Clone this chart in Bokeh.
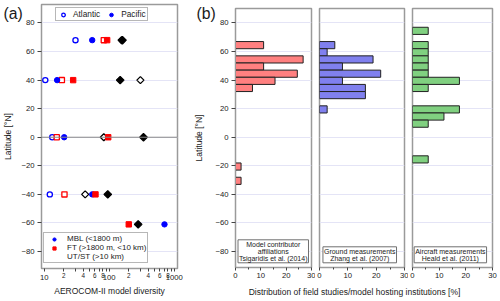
import numpy as np
from bokeh.plotting import figure
from bokeh.models import (FixedTicker, LogAxis, Legend, LegendItem, Label, Span, Range1d, Title)
from bokeh.layouts import row, column
from bokeh.embed import file_html
from bokeh.resources import INLINE

FONT = "Liberation Sans"

# ---------------- Panel (a) data: AEROCOM-II model diversity by latitude ----------------
lat_mbl_atl = [68, 40, 0, -40]
div_mbl_atl = [30.3, 10.4, 13.3, 12.2]
lat_mbl_pac = [68, 40, 0, -40, -61]
div_mbl_pac = [54.8, 15.8, 20.3, 54.8, 709]
lat_ft_atl = [68, 40, 0, -40]
div_ft_atl = [82.6, 18.7, 15.6, 20.5]
lat_ft_pac = [68, 40, 0, -40, -61]
div_ft_pac = [93, 27.9, 96.6, 61.5, 200]
lat_ut_atl = [68, 40, 0, -40]
div_ut_atl = [155, 302, 82.6, 42.7]
lat_ut_pac = [68, 40, 0, -40, -61]
div_ut_pac = [160, 147.6, 337, 95.1, 279]

# ---------------- Panel (b) data: distributions (%) by 5-degree latitude bins ----------------
lat_model = [64.5, 54.5, 49.5, 44.5, 39.5, 34.5, -20.5, -30.5]
pct_model = [11.1, 26.7, 11.1, 24.4, 15.6, 6.7, 2.2, 2.2]
lat_ground = [64.5, 59.5, 54.5, 49.5, 44.5, 39.5, 34.5, 29.5, 19.5]
pct_ground = [5.4, 2.7, 18.9, 8.1, 21.6, 8.1, 16.2, 16.2, 2.7]
lat_aircraft = [74.5, 64.5, 59.5, 54.5, 49.5, 44.5, 39.5, 34.5, 19.5, 14.5, 9.5, -15.5]
pct_aircraft = [5.9, 5.9, 5.9, 5.9, 5.9, 5.9, 17.6, 5.9, 17.6, 11.8, 5.9, 5.9]
bin_height = 5

lat_ticks = [-80, -60, -40, -20, 0, 20, 40, 60, 80]
div_all_ticks = [10, 20, 30, 40, 50, 60, 70, 80, 90, 100, 200, 300, 400, 500, 600, 700, 800, 900, 1000]
div_small_labels = {20: "2", 40: "4", 60: "6", 80: "8", 200: "2", 400: "4", 600: "6", 800: "8"}
div_major_ticks = [10, 100, 1000]
pct_ticks = [0, 10, 20, 30]
pct_minor = [5, 15, 25]

GRID = "#e4e4f6"
FRAME = "#9a9a9a"
TXT = "#1a1a1a"
TICK = "#444444"

def style_y(ax, tick_out, standoff, title, title_standoff):
    ax.ticker = FixedTicker(ticks=lat_ticks)
    ax.axis_line_color = FRAME
    ax.major_tick_line_color = TICK
    ax.major_tick_out = tick_out
    ax.major_tick_in = 0
    ax.minor_tick_line_color = None
    ax.major_label_standoff = standoff
    ax.major_label_text_font = FONT
    ax.major_label_text_font_size = "7.7px"
    ax.major_label_text_color = TXT
    ax.axis_label = title
    ax.axis_label_text_font = FONT
    ax.axis_label_text_font_size = "8.5px"
    ax.axis_label_text_font_style = "normal"
    ax.axis_label_text_color = TXT
    ax.axis_label_standoff = title_standoff

def panel_tag(text, offset, standoff):
    return Title(text=text, align="left", vertical_align="bottom", offset=offset,
                 standoff=standoff, text_font=FONT, text_font_size="15.8px",
                 text_font_style="normal", text_color=TXT)

# ---------------- Panel (a) ----------------
pa = figure(width=191, height=301, x_axis_type="log", x_range=Range1d(9.09, 1124),
            y_range=Range1d(-91.9, 92.95), output_backend="svg", toolbar_location=None,
            x_axis_location=None, min_border_left=41, min_border_right=14,
            min_border_top=4, min_border_bottom=33)
pa.outline_line_color = FRAME
pa.outline_line_width = 1.5
pa.xgrid.visible = False
pa.ygrid.ticker = FixedTicker(ticks=lat_ticks)
pa.ygrid.grid_line_color = GRID

style_y(pa.yaxis[0], 4, 3, "Latitude [°N]", 5)

ax_small = LogAxis(ticker=FixedTicker(ticks=div_all_ticks, minor_ticks=[]),
                   major_label_overrides={t: div_small_labels.get(t, "") for t in div_all_ticks})
ax_small.axis_line_color = FRAME
ax_small.major_tick_line_color = TICK
ax_small.major_tick_out = 3
ax_small.major_tick_in = 0
ax_small.minor_tick_line_color = None
ax_small.major_label_standoff = 1
ax_small.major_label_text_font = FONT
ax_small.major_label_text_font_size = "6.3px"
ax_small.major_label_text_color = TXT
pa.add_layout(ax_small, "below")

ax_major = LogAxis(ticker=FixedTicker(ticks=div_major_ticks, minor_ticks=[]),
                   major_label_overrides={t: str(t) for t in div_major_ticks})
ax_major.axis_line_color = None
ax_major.major_tick_line_color = None
ax_major.major_tick_out = 0
ax_major.major_tick_in = 0
ax_major.minor_tick_line_color = None
ax_major.major_label_standoff = -6
ax_major.major_label_text_font = FONT
ax_major.major_label_text_font_size = "7.7px"
ax_major.major_label_text_color = TXT
ax_major.axis_label = "AEROCOM-II model diversity"
ax_major.axis_label_text_font = FONT
ax_major.axis_label_text_font_size = "8.5px"
ax_major.axis_label_text_font_style = "normal"
ax_major.axis_label_text_color = TXT
ax_major.axis_label_standoff = 3
pa.add_layout(ax_major, "below")

pa.add_layout(panel_tag("(a)", -38, -34), "above")

pa.add_layout(Span(location=0, dimension="width", line_color="#8a8a8a", line_width=1))

BLUE, RED, BLACK = "#0000ff", "#ff0000", "#000000"
DIAM = np.pi / 4
r_mbl_atl = pa.scatter(div_mbl_atl, lat_mbl_atl, marker="circle", size=5.2,
                       line_color=BLUE, fill_color="white", line_width=1.3)
r_ft_atl = pa.scatter(div_ft_atl, lat_ft_atl, marker="square", size=5.2,
                      line_color=RED, fill_color="white", line_width=1.3)
r_ut_atl = pa.scatter(div_ut_atl, lat_ut_atl, marker="square", angle=DIAM, size=5,
                      line_color=BLACK, fill_color="white", line_width=1.3)
r_mbl_pac = pa.scatter(div_mbl_pac, lat_mbl_pac, marker="circle", size=5.4,
                       line_color=BLUE, fill_color=BLUE)
r_ft_pac = pa.scatter(div_ft_pac, lat_ft_pac, marker="square", size=5.4,
                      line_color=RED, fill_color=RED)
r_ut_pac = pa.scatter(div_ut_pac, lat_ut_pac, marker="square", angle=DIAM, size=5.4,
                      line_color=BLACK, fill_color=BLACK, line_width=1.2)
# legend-only glyph (diamond shape for the legend icon)
r_ut_leg = pa.scatter(x=[], y=[], marker="diamond", size=9, line_color=BLACK,
                      fill_color=BLACK)

def style_legend(lg, size):
    lg.label_text_font = FONT
    lg.label_text_font_size = size
    lg.label_text_line_height = 0.9
    lg.label_text_color = TXT
    lg.border_line_color = "#707070"
    lg.border_line_width = 1
    lg.background_fill_alpha = 1
    lg.margin = 0

leg_top = Legend(items=[LegendItem(label="Atlantic", renderers=[r_mbl_atl]),
                        LegendItem(label="Pacific", renderers=[r_mbl_pac])],
                 orientation="horizontal", location=(14, 247))
style_legend(leg_top, "8.3px")
leg_top.glyph_width = 12
leg_top.glyph_height = 9
leg_top.label_height = 9
leg_top.label_standoff = 4
leg_top.spacing = 5
leg_top.padding = 1
pa.add_layout(leg_top)

leg_bot = Legend(items=[LegendItem(label="MBL (<1800 m)", renderers=[r_mbl_pac]),
                        LegendItem(label="FT (>1800 m, <10 km)", renderers=[r_ft_pac]),
                        LegendItem(label="UT/ST (>10 km)", renderers=[r_ut_leg])],
                 orientation="vertical", location=(2, 5))
style_legend(leg_bot, "8px")
leg_bot.glyph_width = 18
leg_bot.glyph_height = 8
leg_bot.label_height = 8
leg_bot.label_standoff = 4
leg_bot.spacing = 0
leg_bot.padding = 1
pa.add_layout(leg_bot)

# ---------------- Panel (b) ----------------
def make_b(width, bl, br, lats, vals, color, box_text, box_x, show_y):
    p = figure(width=width, height=286, x_range=Range1d(0, 30), y_range=Range1d(-91.2, 90.15),
               output_backend="svg", toolbar_location=None,
               y_axis_location="left" if show_y else None,
               min_border_left=bl, min_border_right=br, min_border_top=8, min_border_bottom=19)
    p.outline_line_color = FRAME
    p.outline_line_width = 1.5
    p.xgrid.visible = False
    p.ygrid.ticker = FixedTicker(ticks=lat_ticks)
    p.ygrid.grid_line_color = GRID
    xa = p.xaxis[0]
    xa.ticker = FixedTicker(ticks=pct_ticks, minor_ticks=pct_minor)
    xa.axis_line_color = FRAME
    xa.major_tick_line_color = TICK
    xa.minor_tick_line_color = TICK
    xa.major_tick_out = 3
    xa.major_tick_in = 0
    xa.minor_tick_out = 2
    xa.minor_tick_in = 0
    xa.major_label_standoff = 2
    xa.major_label_text_font = FONT
    xa.major_label_text_font_size = "7.7px"
    xa.major_label_text_color = TXT
    if show_y:
        style_y(p.yaxis[0], 4, 3, "Latitude [°N]", 8)
        p.add_layout(panel_tag("(b)", -39, -26), "above")
    p.hbar(y=lats, height=bin_height, left=0, right=vals, fill_color=color,
           line_color="#222222", line_width=1)
    p.add_layout(Label(x=box_x, y=4.7, y_units="screen", text=box_text, text_font=FONT,
                       text_font_size="7px", text_align="center", text_baseline="bottom",
                       text_line_height=1.0, text_color=TXT,
                       border_line_color="#707070", border_line_width=1,
                       background_fill_color="white", padding=1))
    return p

pb1 = make_b(124, 44, 4, lat_model, pct_model, "#ff8080",
             "Model contributor\naffiliations\nTsigaridis et al. (2014)", 14.9, True)
pb2 = make_b(93, 4, 4, lat_ground, pct_ground, "#8080ee",
             "Ground measurements\nZhang et al. (2007)", 14.2, False)
pb3 = make_b(92, 4, 8, lat_aircraft, pct_aircraft, "#80d080",
             "Aircraft measurements\nHeald et al. (2011)", 14.2, False)

# shared x-axis title of panel (b)
pt = figure(width=309, height=15, x_range=Range1d(0, 1), y_range=Range1d(0, 1),
            output_backend="svg", toolbar_location=None, x_axis_location=None,
            y_axis_location=None, min_border=0)
pt.outline_line_color = None
pt.xgrid.visible = False
pt.ygrid.visible = False
pt.add_layout(Label(x=163, y=10, x_units="screen", y_units="screen",
                    text="Distribution of field studies/model hosting institutions [%]",
                    text_font=FONT, text_font_size="8.5px", text_align="center",
                    text_baseline="middle", text_color=TXT))

layout = row(pa, column(row(pb1, pb2, pb3), pt))

open("out.html", "w").write(file_html(layout, INLINE))
